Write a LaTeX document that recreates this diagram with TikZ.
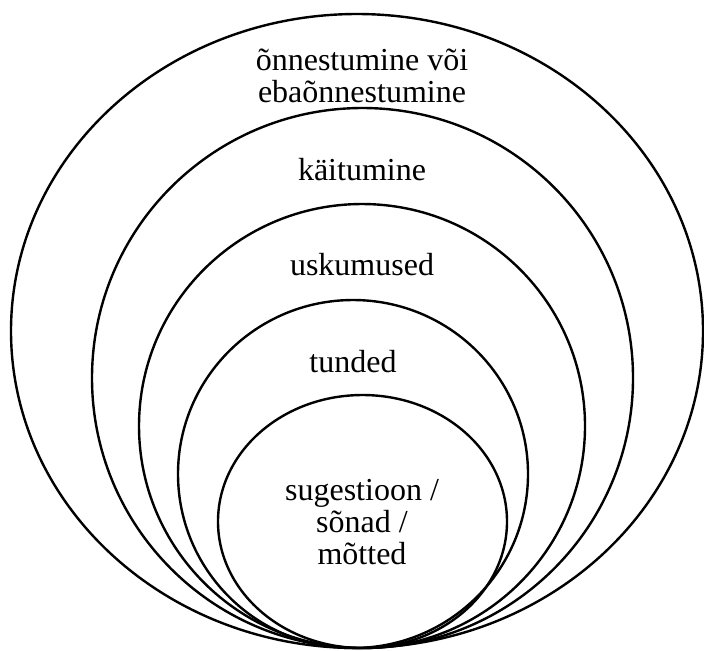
\documentclass[tikz,border=0pt]{standalone}
\usepackage{fontspec}
\setmainfont{Liberation Serif}
\usepackage{tikz}

\begin{document}
\begin{tikzpicture}[x=0.5pt,y=-0.5pt,ring/.style={draw,line width=1.2pt},lbl/.style={anchor=base,inner sep=0pt,align=center,font=\fontsize{16}{16}\selectfont}]
\useasboundingbox (0,0) rectangle (704,650);
\foreach \cx/\cy/\rx/\ry in %
{357/331/346/317,362.5/378/270.5/270,362/426/223/222,353/474/175/174,362.5/521.5/144.5/126.5} {
   \draw[ring] (\cx,\cy) ellipse [x radius=\rx, y radius=\ry];
}
   \node[lbl](outer) at (362,102) {õnnestumine või\\ebaõnnestumine};
   \node[lbl](behav) at (362,180) {käitumine};
   \node[lbl](belief) at (362,275) {uskumused};
   \node[lbl](feel) at (353,372) {tunded};
   \node[lbl](words) at (362,564) {sugestioon /\\sõnad /\\mõtted};
\end{tikzpicture}
\end{document}
